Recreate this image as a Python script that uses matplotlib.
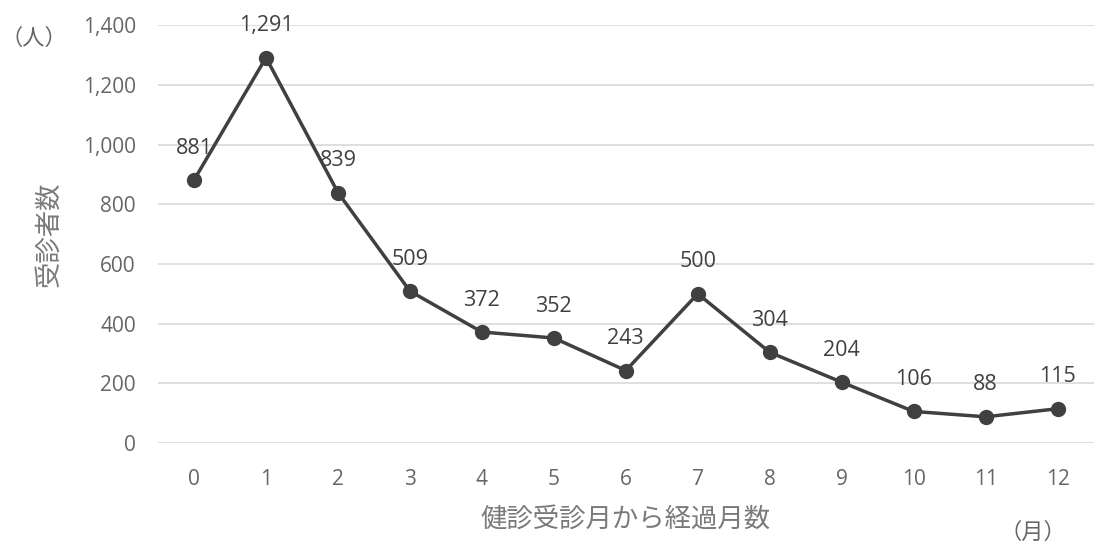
import matplotlib.pyplot as plt

plt.rcParams['font.family'] = ['Noto Sans CJK JP', 'DejaVu Sans']

months = list(range(13))
counts = [881, 1291, 839, 509, 372, 352, 243, 500, 304, 204, 106, 88, 115]
yticks = [0, 200, 400, 600, 800, 1000, 1200, 1400]

num_font = ['Open Sans', 'DejaVu Sans']

fig = plt.figure(figsize=(11.17, 5.45), dpi=100)
ax = fig.add_axes([0.1415, 0.187, 0.8375, 0.767])

ax.plot(months, counts, color='#404040', linewidth=2.5, marker='o',
        markersize=10, zorder=3)

for m, c in zip(months, counts):
    ax.annotate(f'{c:,}', (m, c), xytext=(0, 23), textcoords='offset points',
                ha='center', va='center', fontsize=15.5, color='#404040',
                family=num_font)

ax.set_xlim(-0.5, 12.5)
ax.set_ylim(0, 1400)
ax.set_xticks(months)
ax.set_yticks(yticks)
ax.set_yticklabels([f'{v:,}' for v in yticks])
ax.tick_params(length=0, labelsize=15, labelcolor='#666666', pad=16)
ax.tick_params(axis='x', pad=19)
for lab in ax.get_xticklabels() + ax.get_yticklabels():
    lab.set_family(num_font)
ax.yaxis.grid(True, color='#d9d9d9', linewidth=1.2)
ax.set_axisbelow(True)
for s in ax.spines.values():
    s.set_visible(False)

ax.set_xlabel('健診受診月から経過月数', fontsize=19, color='#7a7a7a', labelpad=12)
ax.set_ylabel('受診者数', fontsize=19, color='#7a7a7a', labelpad=14)

fig.text(0.03, 0.930, '（人）', fontsize=16, color='#666666', ha='center', va='center')
fig.text(0.925, 0.024, '（月）', fontsize=16, color='#666666', ha='center', va='center')

fig.savefig('out.png', dpi=100)
